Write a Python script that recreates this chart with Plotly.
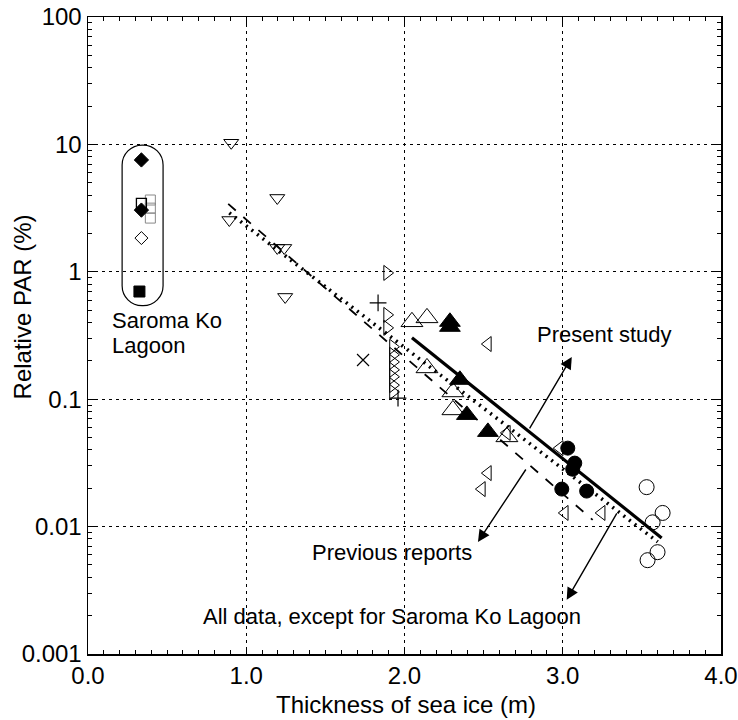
import plotly.graph_objects as go

# ---- data ----
down_tri_x = [0.905, 0.893, 1.196, 1.196, 1.24, 1.246]
down_tri_y = [10.3, 2.55, 3.80, 1.54, 1.54, 0.635]

right_tri_x = [1.89, 1.89, 1.89, 1.927, 1.927, 1.927, 1.927, 1.927, 1.927, 1.927]
right_tri_y = [0.98, 0.459, 0.363, 0.258, 0.223, 0.196, 0.170, 0.150, 0.129, 0.114]

plus_x = [1.833, 1.959]
plus_y = [0.570, 0.102]

cross_x = [1.738]
cross_y = [0.203]

open_up_x = [2.047, 2.142, 2.142, 2.306, 2.306, 2.647]
open_up_y = [0.405, 0.435, 0.176, 0.114, 0.0824, 0.0506]

fill_up_x = [2.287, 2.287, 2.35, 2.394, 2.527]
fill_up_y = [0.405, 0.37, 0.142, 0.0753, 0.0554]

left_tri_x = [2.527, 2.527, 2.489, 3.013, 3.246, 2.981, 2.647]
left_tri_y = [0.271, 0.0263, 0.0197, 0.0128, 0.0128, 0.0413, 0.0544]

fill_circ_x = [3.032, 3.076, 3.063, 2.994, 3.151]
fill_circ_y = [0.0413, 0.0315, 0.0282, 0.0197, 0.0190]

open_circ_x = [3.53, 3.631, 3.568, 3.599, 3.536]
open_circ_y = [0.0204, 0.0128, 0.0108, 0.0063, 0.00545]

# Saroma Ko Lagoon
sar_fdiam_x = [0.3375, 0.3375]
sar_fdiam_y = [7.55, 3.05]
sar_osq_x = [0.3375]
sar_osq_y = [3.45]
sar_gsq_x = [0.394, 0.394, 0.394]
sar_gsq_y = [3.66, 3.16, 2.64]
sar_odiam_x = [0.3375]
sar_odiam_y = [1.84]
sar_fsq_x = [0.325]
sar_fsq_y = [0.70]

# regression lines (end points)
present_x = [2.047, 3.625]
present_y = [0.303, 0.00815]
alldata_x = [0.893, 3.60]
alldata_y = [2.90, 0.00759]
previous_x = [0.886, 3.189]
previous_y = [3.41, 0.0113]

x_ticks = [0, 1, 2, 3, 4]
x_ticklabels = ["0.0", "1.0", "2.0", "3.0", "4.0"]
y_ticks = [0.001, 0.01, 0.1, 1, 10, 100]
y_ticklabels = ["0.001", "0.01", "0.1", "1", "10", "100"]

FONT = "Liberation Sans, Arial, sans-serif"

fig = go.Figure()

def sc(x, y, symbol, size, color="black", lw=1.0, fill=None):
    fig.add_trace(go.Scatter(
        x=x, y=y, mode="markers",
        marker=dict(symbol=symbol, size=size, color=fill if fill else color,
                    line=dict(color=color, width=lw)),
        showlegend=False, hoverinfo="skip"))

# lines
fig.add_trace(go.Scatter(x=previous_x, y=previous_y, mode="lines",
                         line=dict(color="black", width=1.8, dash="10px,10px"),
                         showlegend=False, hoverinfo="skip"))
fig.add_trace(go.Scatter(x=alldata_x, y=alldata_y, mode="lines",
                         line=dict(color="black", width=3.6, dash="2px,5px"),
                         showlegend=False, hoverinfo="skip"))
fig.add_trace(go.Scatter(x=present_x, y=present_y, mode="lines",
                         line=dict(color="black", width=3.2),
                         showlegend=False, hoverinfo="skip"))

sc(down_tri_x, down_tri_y, "triangle-down-open", 13)
sc(right_tri_x, right_tri_y, "triangle-right-open", 13)
sc(plus_x, plus_y, "cross-thin-open", 12, lw=1.2)
sc(cross_x, cross_y, "x-thin-open", 12, lw=1.2)
sc(open_up_x, open_up_y, "triangle-up-open", 19)
sc(fill_up_x, fill_up_y, "triangle-up", 18)
sc(left_tri_x, left_tri_y, "triangle-left-open", 13)
sc(fill_circ_x, fill_circ_y, "circle", 14)
sc(open_circ_x, open_circ_y, "circle-open", 15)

sc(sar_gsq_x, sar_gsq_y, "square-open", 10, color="#888888")
sc(sar_osq_x, sar_osq_y, "square-open", 10, lw=1.3)
sc(sar_fdiam_x, sar_fdiam_y, "diamond", 11)
sc(sar_odiam_x, sar_odiam_y, "diamond-open", 10)
sc(sar_fsq_x, sar_fsq_y, "square", 11)

# rounded box around Saroma Ko points (paper coords)
x0, x1 = 0.0539, 0.1186
y0, y1 = 0.5468, 0.799
rx, ry = 0.0315, 0.0314
k = 0.5523
path = (f"M {x0},{y1-ry} "
        f"C {x0},{y1-ry+k*ry} {x0+rx-k*rx},{y1} {x0+rx},{y1} "
        f"L {x1-rx},{y1} "
        f"C {x1-rx+k*rx},{y1} {x1},{y1-ry+k*ry} {x1},{y1-ry} "
        f"L {x1},{y0+ry} "
        f"C {x1},{y0+ry-k*ry} {x1-rx+k*rx},{y0} {x1-rx},{y0} "
        f"L {x0+rx},{y0} "
        f"C {x0+rx-k*rx},{y0} {x0},{y0+ry-k*ry} {x0},{y0+ry} Z")
fig.add_shape(type="path", path=path, xref="paper", yref="paper",
              line=dict(color="black", width=1.2))

ann_font = dict(family=FONT, size=22, color="black")
# arrows (head x, head log10 y, tail x, tail log10 y)
arrows = [
    (3.057, -0.668, 2.785, -1.240),
    (2.464, -2.120, 2.773, -1.540),
    (3.025, -2.575, 3.347, -1.885),
]
for hx, hy, tx, ty in arrows:
    fig.add_annotation(x=hx, y=hy, ax=tx, ay=ty, xref="x", yref="y",
                       axref="x", ayref="y", showarrow=True, arrowhead=2,
                       arrowsize=1.7, arrowwidth=1.4, arrowcolor="black", text="")

fig.add_annotation(x=3.265, y=-0.495, text="Present study", showarrow=False,
                   font=ann_font, xanchor="center", yanchor="middle")
fig.add_annotation(x=1.921, y=-2.207, text="Previous reports", showarrow=False,
                   font=ann_font, xanchor="center", yanchor="middle")
fig.add_annotation(x=3.126, y=-2.709, text="All data, except for Saroma Ko Lagoon",
                   showarrow=False, font=ann_font, xanchor="right", yanchor="middle")
fig.add_annotation(x=0.142, y=-0.385, text="Saroma Ko", showarrow=False,
                   font=ann_font, xanchor="left", yanchor="middle")
fig.add_annotation(x=0.142, y=-0.582, text="Lagoon", showarrow=False,
                   font=ann_font, xanchor="left", yanchor="middle")

# axis titles as annotations for exact placement
title_font = dict(family=FONT, size=24, color="black")
fig.add_annotation(x=0.503, y=-0.0785, xref="paper", yref="paper",
                   text="Thickness of sea ice (m)", showarrow=False,
                   font=title_font, xanchor="center", yanchor="middle")
fig.add_annotation(x=-0.1033, y=0.545, xref="paper", yref="paper",
                   text="Relative PAR (%)", showarrow=False, textangle=-90,
                   font=title_font, xanchor="center", yanchor="middle")

axis_common = dict(
    showline=True, linecolor="black", linewidth=1.5, mirror="allticks",
    ticks="inside", ticklen=7, tickwidth=1, tickcolor="black",
    showgrid=True, gridcolor="black", gridwidth=1, griddash="3px,4px",
    zeroline=False, automargin=False, ticklabeloverflow="allow",
    tickfont=dict(family=FONT, size=24, color="black"),
)

fig.update_xaxes(range=[0, 4], tickvals=x_ticks, ticktext=x_ticklabels,
                 minor=dict(dtick=0.1, ticks="inside", ticklen=4, tickcolor="black",
                            showgrid=False),
                 **axis_common)
fig.update_yaxes(type="log", range=[-3, 2], tickvals=y_ticks, ticktext=y_ticklabels,
                 minor=dict(dtick="D1", ticks="inside", ticklen=4, tickcolor="black",
                            showgrid=False),
                 **axis_common)

fig.update_layout(
    width=738, height=720,
    margin=dict(l=87.5, r=16.5, t=17, b=66),
    plot_bgcolor="white", paper_bgcolor="white",
    font=dict(family=FONT, color="black"),
    showlegend=False,
    hovermode=False,
)

# remove the default page margin so the figure fills the window exactly
fig.write_html("out.html",
               config={"displayModeBar": False, "staticPlot": True},
               post_script="document.body.style.margin='0';")
